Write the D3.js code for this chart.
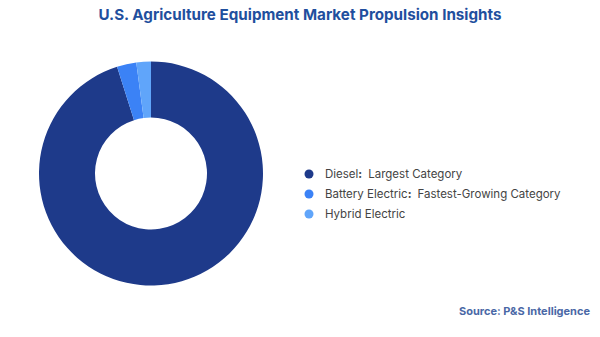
<!DOCTYPE html>
<html>
<head>
<meta charset="utf-8">
<script src="https://cdn.jsdelivr.net/npm/d3@7"></script>
<style>
  html, body { margin: 0; padding: 0; background: #fff; }
  svg { display: block; font-family: "Inter", "Open Sans", sans-serif; }
</style>
</head>
<body>
<svg id="chart" width="600" height="337"></svg>
<script>
// Propulsion shares (%), clockwise from 12 o'clock
const categories = ["Diesel", "Battery Electric", "Hybrid Electric"];
const shares = [95.1, 2.8, 2.1];
const notes = ["Largest Category", "Fastest-Growing Category", ""];
const colors = ["#1e3a8a", "#3b82f6", "#60a5fa"];

const svg = d3.select("#chart");

svg.append("text")
  .attr("x", 300).attr("y", 20)
  .attr("text-anchor", "middle")
  .attr("font-size", 15.2).attr("font-weight", 700)
  .attr("fill", "#1f4f9e")
  .text("U.S. Agriculture Equipment Market Propulsion Insights");

const data = categories.map((c, i) => ({ name: c, value: shares[i], note: notes[i], color: colors[i] }));

const pie = d3.pie().sort(null).value(d => d.value);
const arc = d3.arc().innerRadius(56).outerRadius(112);

const g = svg.append("g").attr("transform", "translate(151,173.5)");
g.selectAll("path")
  .data(pie(data))
  .join("path")
  .attr("d", arc)
  .attr("fill", d => d.data.color);

// Legend
const legend = svg.append("g").attr("transform", "translate(309,174)");
const item = legend.selectAll("g")
  .data(data)
  .join("g")
  .attr("transform", (d, i) => `translate(0,${i * 20})`);

item.append("circle").attr("r", 4.5).attr("fill", d => d.color);

const label = item.append("text")
  .attr("x", 16).attr("dy", "0.35em")
  .attr("font-size", 11.5)
  .attr("fill", "#444");
label.append("tspan").text(d => d.name);
label.filter(d => d.note).append("tspan").attr("font-weight", 700).text(":");
label.filter(d => d.note).append("tspan").attr("dx", 6).text(d => d.note);

svg.append("text")
  .attr("x", 590).attr("y", 315)
  .attr("text-anchor", "end")
  .attr("font-size", 11).attr("font-weight", 700)
  .attr("fill", "#4a68a6")
  .text("Source: P&S Intelligence");
</script>
</body>
</html>
